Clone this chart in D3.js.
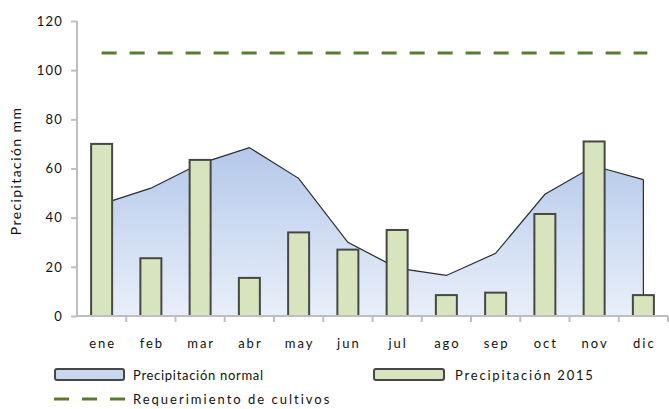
<!DOCTYPE html>
<meta charset="utf-8">
<head>
    <title></title>
    <script src="https://cdn.jsdelivr.net/npm/d3@7"></script>
</head>
<style>
    body{ margin:0; background:#fff; }
    text{ font-family: Lato, "Open Sans", sans-serif; font-size:13px; fill:#111; }
</style>
<svg width="669" height="409"></svg>
<script>
    var months = ['ene','feb','mar','abr','may','jun','jul','ago','sep','oct','nov','dic'],
        normal = [45.5, 52, 62, 68.5, 56, 30, 19.5, 16.5, 25.5, 49.5, 61, 55.5],
        rain2015 = [70, 23.5, 63.5, 15.5, 34, 27, 35, 8.5, 9.5, 41.5, 71, 8.5],
        requirement = 107,
        yTicks = [0,20,40,60,80,100,120];

    var margin = {left:77, top:21, right:1, bottom:93},
        width = 669 - margin.left - margin.right,
        height = 409 - margin.top - margin.bottom;

    var svg = d3.select('svg');
    var g = svg.append('g').attr('transform','translate('+margin.left+','+margin.top+')');

    var x = d3.scaleBand().domain(months).range([0,width]);
    var y = d3.scaleLinear().domain([0,120]).range([height,0]);
    var cx = function(d){ return x(d) + x.bandwidth()/2; };

    // gradient for the normal-rain area
    var grad = svg.append('defs').append('linearGradient')
        .attr('id','areaGrad').attr('x1',0).attr('x2',0).attr('y1',0).attr('y2',1);
    grad.append('stop').attr('offset','0%').attr('stop-color','#b4c8ea');
    grad.append('stop').attr('offset','100%').attr('stop-color','#e9eff9');

    var area = d3.area()
        .x(function(d,i){ return cx(months[i]); })
        .y0(y(0))
        .y1(function(d){ return y(d); });

    g.append('path').datum(normal)
        .attr('d', area)
        .attr('fill','url(#areaGrad)')
        .attr('stroke','none');

    g.append('path').datum(normal)
        .attr('d', d3.line().x(function(d,i){ return cx(months[i]); }).y(function(d){ return y(d); }))
        .attr('fill','none')
        .attr('stroke','#2b2b2b')
        .attr('stroke-width',1.2);

    // right edge of area
    g.append('line')
        .attr('x1', cx('dic')).attr('x2', cx('dic'))
        .attr('y1', y(normal[11])).attr('y2', y(0))
        .attr('stroke','#2b2b2b').attr('stroke-width',1.2);

    // bars
    var bw = 21;
    g.selectAll('.bar').data(rain2015).enter().append('rect')
        .attr('class','bar')
        .attr('x', function(d,i){ return cx(months[i]) - bw/2; })
        .attr('y', function(d){ return y(d); })
        .attr('width', bw)
        .attr('height', function(d){ return y(0) - y(d); })
        .attr('fill','#d7e4bd')
        .attr('stroke','#474747')
        .attr('stroke-width',2);

    // requirement line
    g.append('line')
        .attr('x1', cx('ene')).attr('x2', cx('dic') + 4)
        .attr('y1', y(requirement)).attr('y2', y(requirement))
        .attr('stroke','#5b7a2f')
        .attr('stroke-width',3)
        .attr('stroke-dasharray','15,13');

    // axes
    var yAxis = g.append('g').call(d3.axisLeft(y).tickValues(yTicks).tickSize(6).tickPadding(8));
    var xAxis = g.append('g').attr('transform','translate(0,'+height+')')
        .call(d3.axisBottom(x).tickSize(0).tickPadding(23));
    // boundary ticks on x axis
    g.append('g').selectAll('line').data(months).enter().append('line')
        .attr('x1', function(d){ return x(d) + x.bandwidth(); })
        .attr('x2', function(d){ return x(d) + x.bandwidth(); })
        .attr('y1', height).attr('y2', height + 6)
        .attr('stroke','#bfbfbf').attr('stroke-width',2);

    [yAxis, xAxis].forEach(function(a){
        a.select('.domain').attr('stroke','#bfbfbf').attr('stroke-width',2);
        a.selectAll('.tick line').attr('stroke','#bfbfbf').attr('stroke-width',2);
        a.selectAll('text').style('font-size','13px').attr('fill','#111');
    });
    yAxis.selectAll('text').style('letter-spacing','1.2px');
    xAxis.selectAll('text').style('letter-spacing','2px').attr('dx','1');
    yAxis.select('.domain').attr('d','M0,'+height+'V0');
    xAxis.select('.domain').attr('d','M0,0H'+width);

    svg.append('text')
        .attr('transform','translate(21,'+(margin.top + y(59))+') rotate(-90)')
        .attr('text-anchor','middle')
        .style('font-size','14px')
        .style('letter-spacing','1.4px')
        .text('Precipitación mm');

    // legend
    var leg = svg.append('g');
    leg.append('rect').attr('x',55).attr('y',369).attr('width',69).attr('height',11).attr('rx',2)
        .attr('fill','#c9d7ee').attr('stroke','#474747').attr('stroke-width',2);
    leg.append('text').attr('x',133).attr('y',380).style('letter-spacing','0.7px').text('Precipitación normal');

    leg.append('rect').attr('x',374).attr('y',369).attr('width',70).attr('height',11).attr('rx',2)
        .attr('fill','#d7e4bd').attr('stroke','#474747').attr('stroke-width',2);
    leg.append('text').attr('x',455).attr('y',380).style('letter-spacing','1.8px').text('Precipitación 2015');

    leg.append('line').attr('x1',54).attr('x2',126).attr('y1',399).attr('y2',399)
        .attr('stroke','#5b7a2f').attr('stroke-width',3).attr('stroke-dasharray','15,13');
    leg.append('text').attr('x',133).attr('y',404).style('letter-spacing','2px').text('Requerimiento de cultivos');
</script>
